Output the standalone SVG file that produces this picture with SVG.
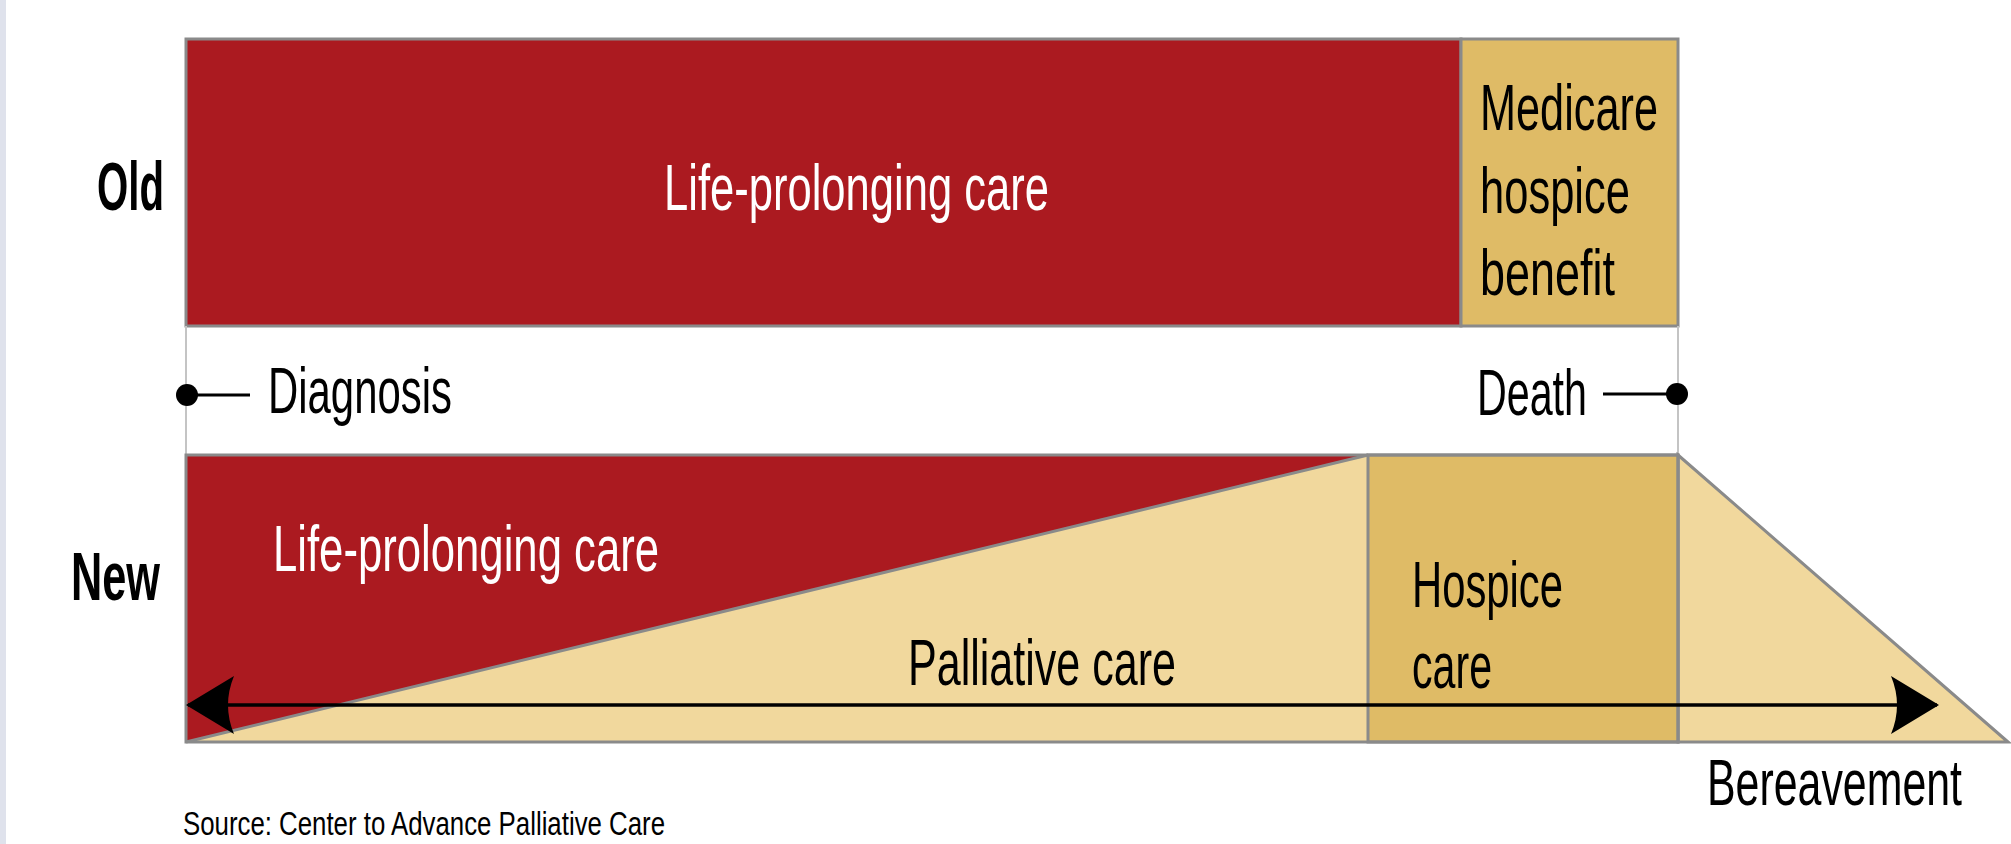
<svg xmlns="http://www.w3.org/2000/svg" width="2011" height="844" viewBox="0 0 2011 844">
<style>
text{font-family:"Liberation Sans Narrow","Liberation Sans",Arial,sans-serif;}
.lbl{font-size:64px;fill:#000;}
.wht{font-size:64px;fill:#fff;}
.row{font-size:68px;font-weight:bold;fill:#000;}
.src{font-size:33px;fill:#000;}
.box{stroke:#8a8a8a;stroke-width:3;}
.red{fill:#ab1a20;}
.gold{fill:#dfbb66;}
.tan{fill:#f1d89d;}
</style>
<defs>
<marker id="ah" viewBox="0 0 48 58" refX="46" refY="29" markerWidth="48" markerHeight="58" markerUnits="userSpaceOnUse" orient="auto-start-reverse">
<path d="M48,29 L0,0 Q12,29 0,58 Z" fill="#000"/>
</marker>
</defs>
<rect x="0" y="0" width="2011" height="844" fill="#fff"/>
<rect x="0" y="0" width="6" height="844" fill="#dfe2ec"/>
<g id="old-row">
<g id="old-life"><rect class="box red" x="186" y="39" width="1275" height="287"/>
<text class="wht" x="664" y="210" textLength="385" lengthAdjust="spacingAndGlyphs">Life-prolonging care</text></g>
<g id="old-hospice"><rect class="box gold" x="1461" y="39" width="217" height="287"/>
<text class="lbl" x="1480" y="130" textLength="178" lengthAdjust="spacingAndGlyphs">Medicare</text>
<text class="lbl" x="1480" y="213" textLength="150" lengthAdjust="spacingAndGlyphs">hospice</text>
<text class="lbl" x="1480" y="295" textLength="135" lengthAdjust="spacingAndGlyphs">benefit</text></g>
<text id="old-label" class="row" x="97" y="210" textLength="67" lengthAdjust="spacingAndGlyphs">Old</text>
</g>
<g id="timeline">
<line x1="186" y1="326" x2="186" y2="455" stroke="#c4c4c4" stroke-width="2"/>
<line x1="1678" y1="326" x2="1678" y2="455" stroke="#c4c4c4" stroke-width="2"/>
<g id="diagnosis"><circle cx="187" cy="395" r="11" fill="#000"/>
<line x1="187" y1="395" x2="250" y2="395" stroke="#000" stroke-width="3"/>
<text class="lbl" x="268" y="413" textLength="184" lengthAdjust="spacingAndGlyphs">Diagnosis</text></g>
<g id="death"><circle cx="1677" cy="394" r="11" fill="#000"/>
<line x1="1603" y1="394" x2="1677" y2="394" stroke="#000" stroke-width="3"/>
<text class="lbl" x="1477" y="415" textLength="110" lengthAdjust="spacingAndGlyphs">Death</text></g>
</g>
<g id="new-row">
<g id="palliative"><polygon class="tan" points="186,455 1368,455 1368,742 186,742"/>
<polygon class="tan box" points="1678,455 2008,742 1678,742"/>
</g>
<g id="new-life"><polygon class="red" points="186,455 1368,455 186,742"/>
<line x1="186" y1="742" x2="1368" y2="455" stroke="#8a8a8a" stroke-width="3"/>
<text class="wht" x="273" y="571" textLength="386" lengthAdjust="spacingAndGlyphs">Life-prolonging care</text></g>
<g id="hospice-care"><rect class="box gold" x="1368" y="455" width="310" height="287"/>
<text class="lbl" x="1412" y="607" textLength="151" lengthAdjust="spacingAndGlyphs">Hospice</text>
<text class="lbl" x="1412" y="688" textLength="80" lengthAdjust="spacingAndGlyphs">care</text></g>
<rect x="186" y="455" width="1492" height="287" fill="none" class="box"/>
<text id="palliative-label" class="lbl" x="908" y="685" textLength="268" lengthAdjust="spacingAndGlyphs">Palliative care</text>
<text id="new-label" class="row" x="71" y="600" textLength="89" lengthAdjust="spacingAndGlyphs">New</text>
<text id="bereavement" class="lbl" x="1707" y="805" textLength="255" lengthAdjust="spacingAndGlyphs">Bereavement</text>
</g>
<g id="connectors">
<line x1="188" y1="705" x2="1937" y2="705" stroke="#000" stroke-width="3.5" marker-start="url(#ah)" marker-end="url(#ah)"/>
</g>
<text id="source" class="src" x="183" y="835" textLength="482" lengthAdjust="spacingAndGlyphs">Source: Center to Advance Palliative Care</text>
</svg>
